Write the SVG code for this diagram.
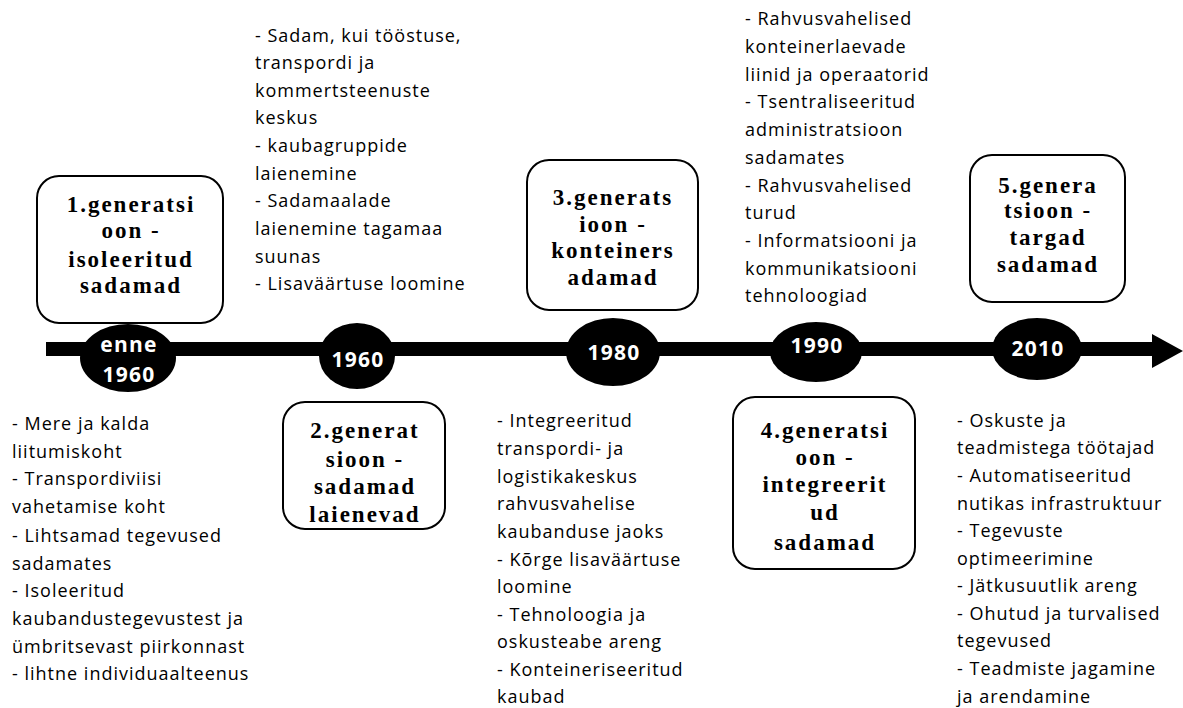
<svg xmlns="http://www.w3.org/2000/svg" width="1183" height="708" viewBox="0 0 1183 708">
<style>
.box{fill:#fff;stroke:#000;stroke-width:2}
.bt{font-family:"Liberation Serif","Times New Roman",serif;font-weight:bold;font-size:23px;letter-spacing:2px;text-anchor:middle;fill:#000}
.yr{fill:#000}
.yt{font-family:"Open Sans",Lato,sans-serif;font-weight:bold;font-size:21px;letter-spacing:1.3px;text-anchor:middle;fill:#fff}
.tx{font-family:"Open Sans",Lato,sans-serif;font-size:18px;letter-spacing:1px;fill:#000}
</style>
<rect width="1183" height="708" fill="#fff"/>
<g id="connectors">
<rect x="46" y="342" width="1108" height="14" fill="#000"/>
<polygon points="1152,334 1183,351 1152,368" fill="#000"/>
</g>
<g id="year-enne1960"><ellipse class="yr" cx="128" cy="358" rx="48" ry="34"/><text class="yt" x="129" y="352">enne</text><text class="yt" x="129" y="382">1960</text></g>
<g id="year-1960"><ellipse class="yr" cx="357" cy="356" rx="38" ry="33"/><text class="yt" x="358" y="367">1960</text></g>
<g id="year-1980"><ellipse class="yr" cx="613" cy="352" rx="47" ry="34"/><text class="yt" x="614" y="360">1980</text></g>
<g id="year-1990"><ellipse class="yr" cx="816" cy="352" rx="46" ry="30"/><text class="yt" x="817" y="353">1990</text></g>
<g id="year-2010"><ellipse class="yr" cx="1037" cy="349" rx="45" ry="31"/><text class="yt" x="1038" y="356">2010</text></g>
<g id="gen1"><rect class="box" x="37" y="176" width="186" height="147" rx="22"/>
<text class="bt" x="131" y="212">1.generatsi</text><text class="bt" x="131" y="238">oon -</text><text class="bt" x="131" y="267">isoleeritud</text><text class="bt" x="131" y="293">sadamad</text></g>
<g id="gen2"><rect class="box" x="283" y="402" width="162" height="127" rx="22"/>
<text class="bt" x="365" y="438">2.generat</text><text class="bt" x="365" y="467">sioon -</text><text class="bt" x="365" y="494">sadamad</text><text class="bt" x="365" y="522">laienevad</text></g>
<g id="gen3"><rect class="box" x="527" y="160" width="171" height="150" rx="22"/>
<text class="bt" x="613" y="205">3.generats</text><text class="bt" x="613" y="232">ioon -</text><text class="bt" x="613" y="258">konteiners</text><text class="bt" x="613" y="285">adamad</text></g>
<g id="gen4"><rect class="box" x="733" y="397" width="182" height="172" rx="22"/>
<text class="bt" x="825" y="438">4.generatsi</text><text class="bt" x="825" y="465">oon -</text><text class="bt" x="825" y="492">integreerit</text><text class="bt" x="825" y="520">ud</text><text class="bt" x="825" y="550">sadamad</text></g>
<g id="gen5"><rect class="box" x="970" y="155" width="155" height="147" rx="22"/>
<text class="bt" x="1048" y="193">5.genera</text><text class="bt" x="1048" y="218">tsioon -</text><text class="bt" x="1048" y="245">targad</text><text class="bt" x="1048" y="272">sadamad</text></g>
<g id="desc1" class="tx">
<text x="12" y="430">- Mere ja kalda</text><text x="12" y="458">liitumiskoht</text><text x="12" y="485">- Transpordiviisi</text><text x="12" y="513">vahetamise koht</text><text x="12" y="542">- Lihtsamad tegevused</text><text x="12" y="570">sadamates</text><text x="12" y="597">- Isoleeritud</text><text x="12" y="625">kaubandustegevustest ja</text><text x="12" y="653">ümbritsevast piirkonnast</text><text x="12" y="680">- lihtne  individuaalteenus</text>
</g>
<g id="desc2" class="tx">
<text x="255" y="42">- Sadam, kui tööstuse,</text><text x="255" y="69">transpordi  ja</text><text x="255" y="97">kommertsteenuste</text><text x="255" y="124">keskus</text><text x="255" y="152">- kaubagruppide</text><text x="255" y="180">laienemine</text><text x="255" y="207">- Sadamaalade</text><text x="255" y="235">laienemine tagamaa</text><text x="255" y="263">suunas</text><text x="255" y="290">- Lisaväärtuse  loomine</text>
</g>
<g id="desc3" class="tx">
<text x="497" y="427">- Integreeritud</text><text x="497" y="455">transpordi-  ja</text><text x="497" y="483">logistikakeskus</text><text x="497" y="510">rahvusvahelise</text><text x="497" y="538">kaubanduse jaoks</text><text x="497" y="566">- Kõrge  lisaväärtuse</text><text x="497" y="593">loomine</text><text x="497" y="621">- Tehnoloogia  ja</text><text x="497" y="648">oskusteabe areng</text><text x="497" y="676">- Konteineriseeritud</text><text x="497" y="703">kaubad</text>
</g>
<g id="desc4" class="tx">
<text x="745" y="25">- Rahvusvahelised</text><text x="745" y="53">konteinerlaevade</text><text x="745" y="81">liinid  ja operaatorid</text><text x="745" y="108">- Tsentraliseeritud</text><text x="745" y="136">administratsioon</text><text x="745" y="164">sadamates</text><text x="745" y="192">- Rahvusvahelised</text><text x="745" y="219">turud</text><text x="745" y="247">- Informatsiooni  ja</text><text x="745" y="275">kommunikatsiooni</text><text x="745" y="302">tehnoloogiad</text>
</g>
<g id="desc5" class="tx">
<text x="957" y="427">- Oskuste ja</text><text x="957" y="454">teadmistega  töötajad</text><text x="957" y="482">- Automatiseeritud</text><text x="957" y="510">nutikas  infrastruktuur</text><text x="957" y="537">- Tegevuste</text><text x="957" y="565">optimeerimine</text><text x="957" y="592">- Jätkusuutlik  areng</text><text x="957" y="620">- Ohutud  ja turvalised</text><text x="957" y="647">tegevused</text><text x="957" y="675">- Teadmiste jagamine</text><text x="957" y="703">ja arendamine</text>
</g>
</svg>
